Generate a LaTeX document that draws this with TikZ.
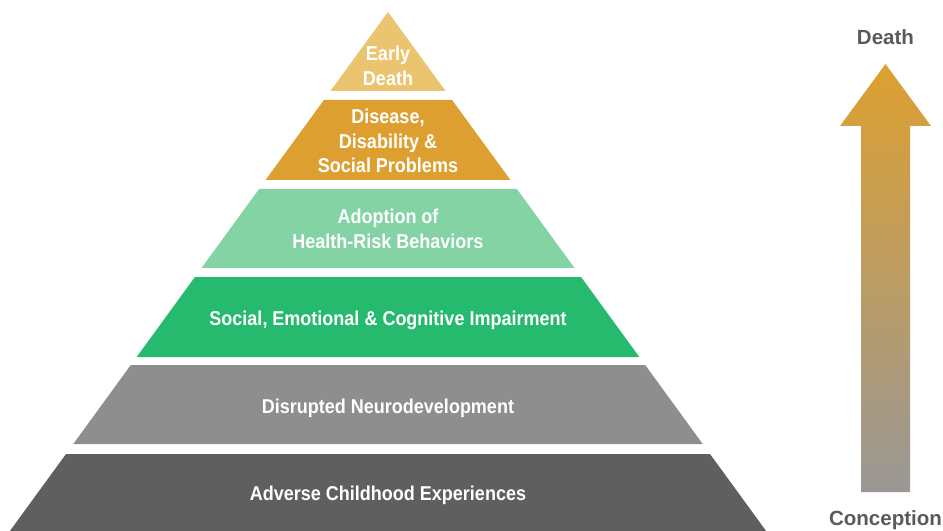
\documentclass[tikz,border=0pt]{standalone}
\usepackage{fontspec}
\setmainfont{Liberation Sans}
\newfontfamily\layerfont{Liberation Sans}[FakeStretch=0.9]
\definecolor{deathtop}{HTML}{EBC470}
\definecolor{disease}{HTML}{DDA030}
\definecolor{adoption}{HTML}{84D3A5}
\definecolor{impair}{HTML}{26BA6E}
\definecolor{neuro}{HTML}{8E8E8E}
\definecolor{adverse}{HTML}{5F5F5F}
\definecolor{arrowgrey}{HTML}{9A9896}
\definecolor{labelgrey}{HTML}{5A5A5A}
\tikzset{
  layertext/.style={text=white, align=center, font=\layerfont\fontsize{15pt}{18.5pt}\selectfont\bfseries},
  sidetext/.style={text=labelgrey, font=\fontsize{15.4pt}{18pt}\selectfont\bfseries}
}
\begin{document}
\begin{tikzpicture}[x=0.75pt, y=-0.75pt]
  \useasboundingbox (0,0) rectangle (943,531);

  % Pyramid layers, top to bottom
  \fill[deathtop] (388,12) -- (445.6,91) -- (330.4,91) -- cycle;
  \fill[disease] (323.9,100) -- (452.1,100) -- (510.4,180) -- (265.6,180) -- cycle;
  \fill[adoption] (259.1,189) -- (516.9,189) -- (574.5,268) -- (201.5,268) -- cycle;
  \fill[impair] (194.9,277) -- (581.1,277) -- (639.3,357) -- (136.7,357) -- cycle;
  \fill[neuro] (130.8,365) -- (645.2,365) -- (702.7,444) -- (73.3,444) -- cycle;
  \fill[adverse] (66,454) -- (710,454) -- (766.1,531) -- (9.9,531) -- cycle;

  % Layer labels
  \node[layertext] (early) at (388,66) {Early\\Death};
  \node[layertext] (disease) at (388,141) {Disease,\\Disability \&\\Social Problems};
  \node[layertext] (adoption) at (388,229) {Adoption of\\Health-Risk Behaviors};
  \node[layertext] (impair) at (388,320) {Social, Emotional \& Cognitive Impairment};
  \node[layertext] (neuro) at (388,408) {Disrupted Neurodevelopment};
  \node[layertext] (adverse) at (388,495) {Adverse Childhood Experiences};

  % Time arrow
  \node[sidetext] (death) at (885.5,37) {Death};
  \node[sidetext] (conception) at (885.5,520) {Conception};
  \shade[top color=disease, bottom color=arrowgrey]
    (885.5,64) -- (931,126) -- (910,126) -- (910,492)
    -- (861,492) -- (861,126) -- (840,126) -- cycle;

\end{tikzpicture}
\end{document}
